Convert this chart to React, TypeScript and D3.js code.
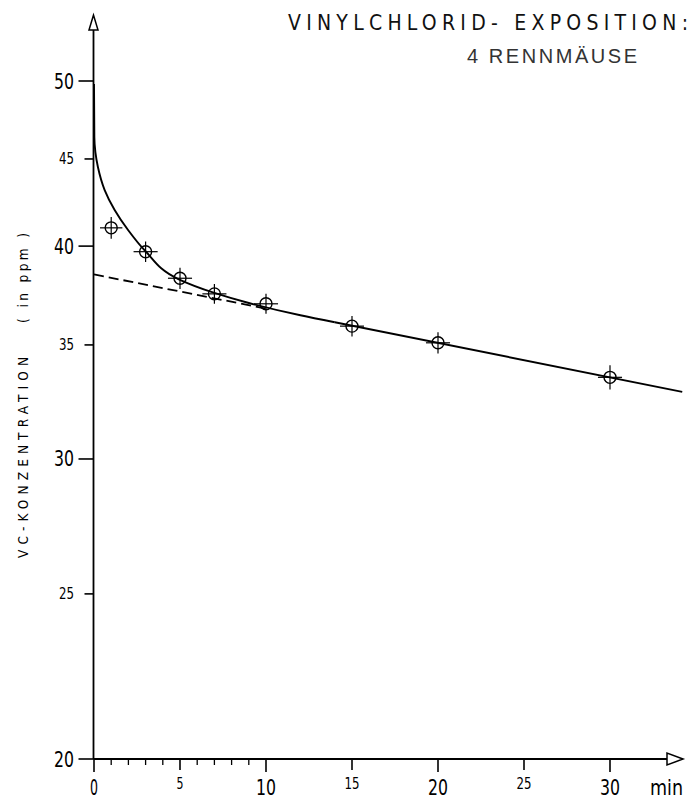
import React from "react";
import * as d3 from "d3";

// Measured VC concentration (ppm) over exposure time (min), 4 gerbils
const times = [1, 3, 5, 7, 10, 15, 20, 30];
const concentrations = [41.0, 39.7, 38.3, 37.5, 37.0, 35.9, 35.1, 33.5];
const concErrors = [0.6, 0.55, 0.55, 0.5, 0.5, 0.5, 0.5, 0.55];
const timeErrors = [0.65, 0.7, 0.7, 0.7, 0.7, 0.7, 0.7, 0.7];

// Fitted curve (fast initial phase merging into the slow phase)
const fitCurveTimes = [0, 0.02, 0.23, 0.62, 1.2, 1.98, 2.97, 4.9, 7, 9, 12, 14];
const fitCurveValues = [49.8, 46.35, 44.5, 43.15, 42.0, 40.88, 39.75, 38.26, 37.55, 37.04, 36.43, 36.09];

// Slow phase, straight on the log axis
const slowPhaseTimes = [14, 34.2];
const slowPhaseValues = [36.09, 32.85];

// Slow phase extrapolated back to t = 0
const extrapTimes = [0, 10];
const extrapValues = [38.5, 36.76];

const yMajorTicks = [20, 30, 40, 50];
const yMinorTicks = [25, 35, 45];
const xMajorTicks = [0, 10, 20, 30];
const xMidTicks = [5, 15, 25];
const xMinorTicks = [1, 2, 3, 4, 6, 7, 8, 9];

const titleLine1 = "VINYLCHLORID- EXPOSITION:";
const titleLine2 = "4 RENNMÄUSE";
const yLabelMain = "VC-KONZENTRATION";
const yLabelUnit = "( in ppm )";
const xUnit = "min";

const FONT = "'DejaVu Sans Condensed', 'DejaVu Sans', sans-serif";

export default function App() {
  const W = 691;
  const H = 799;
  const x = d3.scaleLinear().domain([0, 30]).range([94, 610]);
  const y = d3.scaleLog().domain([20, 50]).range([759, 81]);

  const axisX = x(0) - 0.5;
  const axisY = y(20);

  const curvePts: [number, number][] = fitCurveTimes.map((t, i) => [t, fitCurveValues[i]]);
  const slowPts: [number, number][] = slowPhaseTimes.map((t, i) => [t, slowPhaseValues[i]]);
  const extrapPts: [number, number][] = extrapTimes.map((t, i) => [t, extrapValues[i]]);

  // The curve falls monotonically, so interpolate monotone in y: this keeps
  // the near-vertical start hugging the axis without overshoot.
  const curveGen = d3
    .line<[number, number]>()
    .x((d) => x(d[0]))
    .y((d) => y(d[1]))
    .curve(d3.curveMonotoneY);
  const straightGen = d3
    .line<[number, number]>()
    .x((d) => x(d[0]))
    .y((d) => y(d[1]));

  const labelW = (s: string, big: boolean) =>
    s.length === 1 ? (big ? 8 : 7) : big ? 20 : 15;

  return (
    <svg
      width={W}
      height={H}
      style={{ position: "absolute", left: 0, top: 0, background: "#fff" }}
    >
      {/* Title */}
      <text
        x={288}
        y={30}
        fontFamily={FONT}
        fontSize={21}
        fill="#111"
        textLength={400}
        lengthAdjust="spacing"
      >
        {titleLine1}
      </text>
      <text
        x={467}
        y={63}
        fontFamily="'Liberation Sans', Arial, sans-serif"
        fontSize={20}
        fill="#333"
        textLength={170}
        lengthAdjust="spacing"
      >
        {titleLine2}
      </text>

      {/* Y axis with arrow */}
      <line x1={axisX} y1={30} x2={axisX} y2={axisY} stroke="#000" strokeWidth={1.8} />
      <path
        d={`M${axisX},15 L${axisX - 4.5},30 L${axisX + 4.5},30 Z`}
        fill="#fff"
        stroke="#000"
        strokeWidth={1.5}
      />

      {/* X axis with arrow */}
      <line x1={axisX} y1={axisY} x2={667} y2={axisY} stroke="#000" strokeWidth={1.8} />
      <path
        d={`M683,${axisY} L667,${axisY - 6} L667,${axisY + 6} Z`}
        fill="#fff"
        stroke="#000"
        strokeWidth={1.5}
      />

      {/* Y ticks and labels */}
      {yMajorTicks.map((v) => (
        <g key={`ym${v}`}>
          <line x1={axisX - 15} x2={axisX} y1={y(v)} y2={y(v)} stroke="#000" strokeWidth={1.6} />
          <text
            x={74}
            y={y(v) + 7.5}
            textAnchor="end"
            fontFamily={FONT}
            fontSize={21}
            fill="#000"
            textLength={labelW(String(v), true)}
            lengthAdjust="spacingAndGlyphs"
          >
            {v}
          </text>
        </g>
      ))}
      {yMinorTicks.map((v) => (
        <g key={`yn${v}`}>
          <line x1={axisX - 9} x2={axisX} y1={y(v)} y2={y(v)} stroke="#000" strokeWidth={1.6} />
          <text
            x={74}
            y={y(v) + 5.5}
            textAnchor="end"
            fontFamily={FONT}
            fontSize={15}
            fill="#000"
            textLength={labelW(String(v), false)}
            lengthAdjust="spacingAndGlyphs"
          >
            {v}
          </text>
        </g>
      ))}

      {/* X ticks and labels */}
      {xMajorTicks.map((t) => (
        <g key={`xm${t}`}>
          <line x1={x(t)} x2={x(t)} y1={axisY} y2={axisY + 13} stroke="#000" strokeWidth={1.6} />
          <text
            x={x(t)}
            y={795}
            textAnchor="middle"
            fontFamily={FONT}
            fontSize={21}
            fill="#000"
            textLength={labelW(String(t), true)}
            lengthAdjust="spacingAndGlyphs"
          >
            {t}
          </text>
        </g>
      ))}
      {xMidTicks.map((t) => (
        <g key={`xd${t}`}>
          <line x1={x(t)} x2={x(t)} y1={axisY} y2={axisY + 11} stroke="#000" strokeWidth={1.6} />
          <text
            x={x(t)}
            y={788.5}
            textAnchor="middle"
            fontFamily={FONT}
            fontSize={15}
            fill="#000"
            textLength={labelW(String(t), false)}
            lengthAdjust="spacingAndGlyphs"
          >
            {t}
          </text>
        </g>
      ))}
      {xMinorTicks.map((t) => (
        <line
          key={`xs${t}`}
          x1={x(t)}
          x2={x(t)}
          y1={axisY}
          y2={axisY + 6}
          stroke="#000"
          strokeWidth={1.3}
        />
      ))}
      <text
        x={650}
        y={795}
        fontFamily={FONT}
        fontSize={21}
        fill="#000"
        textLength={33}
        lengthAdjust="spacingAndGlyphs"
      >
        {xUnit}
      </text>

      {/* Y axis title */}
      <text
        transform={`translate(28,457.5) rotate(-90)`}
        textAnchor="middle"
        fontFamily={FONT}
        fontSize={13.5}
        fill="#000"
        textLength={201}
        lengthAdjust="spacing"
      >
        {yLabelMain}
      </text>
      <text
        transform={`translate(28,278) rotate(-90)`}
        textAnchor="middle"
        fontFamily={FONT}
        fontSize={13.5}
        fill="#000"
        textLength={90}
        lengthAdjust="spacing"
      >
        {yLabelUnit}
      </text>

      {/* Extrapolated slow phase (dashed) */}
      <path
        d={straightGen(extrapPts) || ""}
        fill="none"
        stroke="#000"
        strokeWidth={1.8}
        strokeDasharray="10 5"
      />

      {/* Fitted curve */}
      <path d={curveGen(curvePts) || ""} fill="none" stroke="#000" strokeWidth={1.9} />
      <path d={straightGen(slowPts) || ""} fill="none" stroke="#000" strokeWidth={1.9} />

      {/* Measured points with error crosses */}
      {times.map((t, i) => {
        const cx = x(t);
        const cy = y(concentrations[i]);
        return (
          <g key={`p${i}`} stroke="#000" fill="none">
            <line
              x1={x(t - timeErrors[i])}
              x2={x(t + timeErrors[i])}
              y1={cy}
              y2={cy}
              strokeWidth={1.2}
            />
            <line
              x1={cx}
              x2={cx}
              y1={y(concentrations[i] + concErrors[i])}
              y2={y(concentrations[i] - concErrors[i])}
              strokeWidth={1.2}
            />
            <circle cx={cx} cy={cy} r={6} strokeWidth={1.4} />
          </g>
        );
      })}
    </svg>
  );
}
